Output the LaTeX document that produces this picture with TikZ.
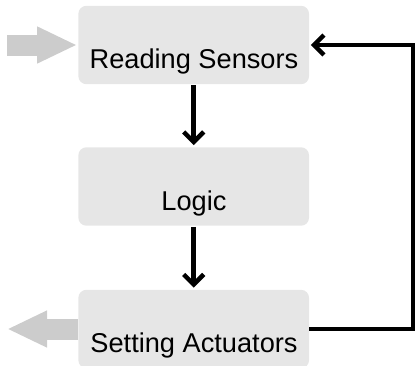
\documentclass[tikz,border=0pt]{standalone}
\usepackage{fontspec}
\setmainfont{Liberation Sans}
\usetikzlibrary{arrows.meta}
\definecolor{boxgray}{HTML}{E6E6E6}
\definecolor{iogray}{HTML}{CCCCCC}
\begin{document}
\begin{tikzpicture}[x=1pt,y=-1pt,
  stepbox/.style={fill=boxgray, rounded corners=8pt, minimum width=230.7pt, minimum height=78.4pt, inner sep=0pt, draw=none},
  lbl/.style={anchor=base, font=\fontsize{27.2}{31}\selectfont, inner sep=0pt},
  flow/.style={line width=4.5pt, line join=miter, -{Straight Barb[length=10pt,width=20pt]}},
  io/.style={draw=iogray, line width=21pt, -{Triangle[length=40pt,width=34pt]}}]
\useasboundingbox (0,0) rectangle (417,365);
\clip (0,0) rectangle (417,365);
\node[stepbox] (rs) at (193.7,45) {};
\node[stepbox] (lg) at (193.7,186.5) {};
\node[stepbox] (sa) at (193.7,329) {};
\node[lbl] (rst) at (194,68.3) {Reading Sensors};
\node[lbl] (lgt) at (194,210) {Logic};
\node[lbl] (sat) at (194,352.5) {Setting Actuators};
\coordinate (inp) at (7,45);
\coordinate (outp) at (7,329);
\coordinate (fb) at (413,187);
\draw[io] (inp) -- ([xshift=-1pt]rs.west);
\draw[io] (sa.west) -- (outp);
\draw[flow, shorten >=2pt] ([yshift=-1pt]rs.south) -- (lg.north);
\draw[flow, shorten >=2pt] ([yshift=-1pt]lg.south) -- (sa.north);
\draw[flow, shorten >=1.5pt] (sa.east) -| (fb) |- (rs.east);
\end{tikzpicture}
\end{document}
